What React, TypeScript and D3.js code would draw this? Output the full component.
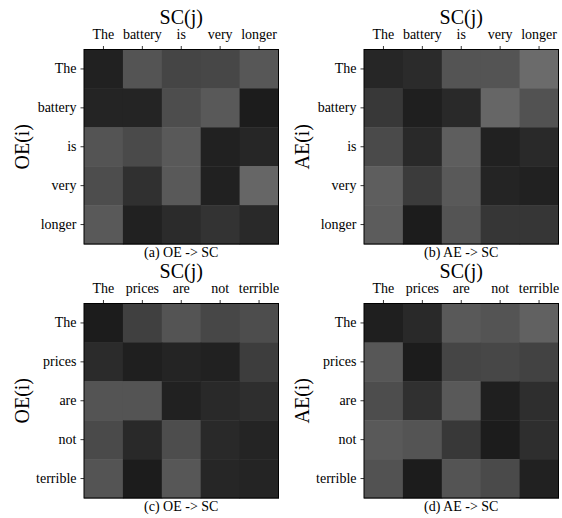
import React from "react";
import * as d3 from "d3";

const tokensA = ["The", "battery", "is", "very", "longer"];
const tokensB = ["The", "prices", "are", "not", "terrible"];

const weightsA = [
  [0.13, 0.33, 0.27, 0.28, 0.34],
  [0.14, 0.14, 0.3, 0.35, 0.11],
  [0.33, 0.29, 0.35, 0.13, 0.15],
  [0.3, 0.19, 0.35, 0.13, 0.4],
  [0.35, 0.13, 0.17, 0.2, 0.16],
];
const weightsB = [
  [0.15, 0.17, 0.33, 0.33, 0.42],
  [0.22, 0.12, 0.16, 0.4, 0.32],
  [0.29, 0.16, 0.37, 0.13, 0.16],
  [0.37, 0.23, 0.35, 0.14, 0.13],
  [0.36, 0.11, 0.33, 0.21, 0.21],
];
const weightsC = [
  [0.11, 0.25, 0.33, 0.28, 0.3],
  [0.17, 0.12, 0.14, 0.13, 0.24],
  [0.33, 0.33, 0.13, 0.16, 0.18],
  [0.29, 0.16, 0.3, 0.16, 0.14],
  [0.33, 0.11, 0.34, 0.15, 0.14],
];
const weightsD = [
  [0.12, 0.16, 0.35, 0.33, 0.38],
  [0.34, 0.11, 0.27, 0.28, 0.26],
  [0.3, 0.19, 0.35, 0.12, 0.18],
  [0.35, 0.33, 0.22, 0.11, 0.18],
  [0.32, 0.11, 0.33, 0.29, 0.13],
];

const captions = ["(a) OE -> SC", "(b) AE -> SC", "(c) OE -> SC", "(d) AE -> SC"];
const yTitles = ["OE(i)", "AE(i)", "OE(i)", "AE(i)"];
const xTitle = "SC(j)";

const FONT = "'Liberation Serif', 'Times New Roman', serif";
const gray = d3.scaleLinear<string>().domain([0, 1]).range(["#000000", "#ffffff"]);

type PanelProps = {
  x0: number;
  y0: number;
  size: number;
  tokens: string[];
  weights: number[][];
  caption: string;
  yTitle: string;
};

function Panel({ x0, y0, size, tokens, weights, caption, yTitle }: PanelProps) {
  const xs = d3.scaleBand<string>().domain(tokens.map((_, i) => String(i))).range([x0, x0 + size]).padding(0);
  const ys = d3.scaleBand<string>().domain(tokens.map((_, i) => String(i))).range([y0, y0 + size]).padding(0);
  const bw = xs.bandwidth();
  const bh = ys.bandwidth();
  const cx = x0 + size / 2;
  return (
    <g>
      {weights.map((row, r) =>
        row.map((v, c) => (
          <rect
            key={`${r}-${c}`}
            x={xs(String(c))}
            y={ys(String(r))}
            width={bw + 0.5}
            height={bh + 0.5}
            fill={gray(v)}
          />
        ))
      )}
      <rect x={x0} y={y0} width={size} height={size} fill="none" stroke="#000" strokeWidth={1} />
      {tokens.map((t, i) => {
        const px = (xs(String(i)) as number) + bw / 2;
        return (
          <g key={`x${i}`}>
            <line x1={px} x2={px} y1={y0} y2={y0 - 3.5} stroke="#000" strokeWidth={0.8} />
            <text x={px} y={y0 - 10.5} textAnchor="middle" fontSize={14} fontFamily={FONT} fill="#000">
              {t}
            </text>
          </g>
        );
      })}
      {tokens.map((t, i) => {
        const py = (ys(String(i)) as number) + bh / 2;
        return (
          <g key={`y${i}`}>
            <line x1={x0} x2={x0 - 3.5} y1={py} y2={py} stroke="#000" strokeWidth={0.8} />
            <text x={x0 - 7.5} y={py} dy="0.32em" textAnchor="end" fontSize={14} fontFamily={FONT} fill="#000">
              {t}
            </text>
          </g>
        );
      })}
      <text x={cx} y={y0 - 26} textAnchor="middle" fontSize={20} fontFamily={FONT} fill="#000">
        {xTitle}
      </text>
      <text
        transform={`translate(${x0 - 55},${y0 + size / 2}) rotate(-90)`}
        textAnchor="middle"
        fontSize={20}
        fontFamily={FONT}
        fill="#000"
      >
        {yTitle}
      </text>
      <text x={cx} y={y0 + size + 12.5} textAnchor="middle" fontSize={14} fontFamily={FONT} fill="#000">
        {caption}
      </text>
    </g>
  );
}

export default function App() {
  const size = 194.5;
  const panels = [
    { x0: 84, y0: 49.5, tokens: tokensA, weights: weightsA },
    { x0: 364, y0: 49.5, tokens: tokensA, weights: weightsB },
    { x0: 84, y0: 303.5, tokens: tokensB, weights: weightsC },
    { x0: 364, y0: 303.5, tokens: tokensB, weights: weightsD },
  ];
  return (
    <svg
      width={562}
      height={518}
      style={{ position: "absolute", left: 0, top: 0, background: "#fff" }}
    >
      <rect width={562} height={518} fill="#fff" />
      {panels.map((p, i) => (
        <Panel
          key={i}
          x0={p.x0}
          y0={p.y0}
          size={size}
          tokens={p.tokens}
          weights={p.weights}
          caption={captions[i]}
          yTitle={yTitles[i]}
        />
      ))}
    </svg>
  );
}
